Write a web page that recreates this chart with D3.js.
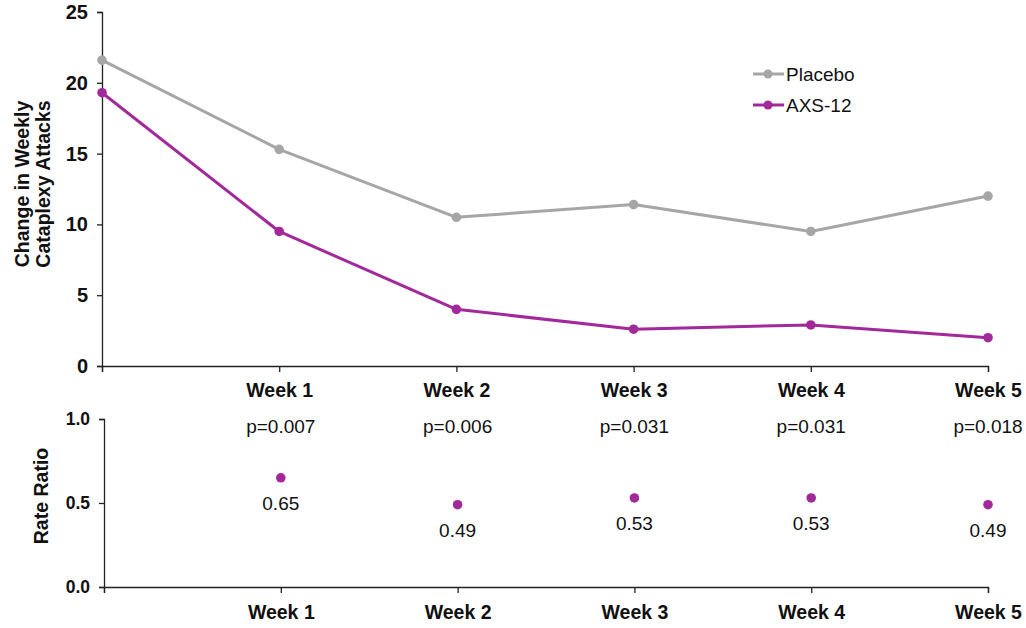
<!DOCTYPE html>
<html>
<head>
<meta charset="utf-8">
<script src="https://cdn.jsdelivr.net/npm/d3@7"></script>
<style>
  html, body { margin: 0; padding: 0; background: #fff; }
  svg { display: block; font-family: "Liberation Sans", Arial, sans-serif; }
</style>
</head>
<body>
<svg id="chart" width="1026" height="628"></svg>
<script>
// ---- Data ----
const timepoints = ["Baseline", "Week 1", "Week 2", "Week 3", "Week 4", "Week 5"];
const placebo = [21.6, 15.3, 10.5, 11.4, 9.5, 12.0];
const axs12 = [19.3, 9.5, 4.0, 2.6, 2.9, 2.0];
const ratioWeeks = ["Week 1", "Week 2", "Week 3", "Week 4", "Week 5"];
const rateRatio = [0.65, 0.49, 0.53, 0.53, 0.49];
const pValues = ["p=0.007", "p=0.006", "p=0.031", "p=0.031", "p=0.018"];
const topTicks = [0, 5, 10, 15, 20, 25];
const bottomTicks = [0, 0.5, 1.0];
const seriesNames = ["Placebo", "AXS-12"];

const GRAY = "#a6a6a6";
const PURPLE = "#a2299a";

const svg = d3.select("#chart");

function styleAxis(g, size) {
  g.selectAll("path, line").attr("stroke", "#222").attr("stroke-width", 1.3);
  g.selectAll("text").attr("font-size", size).attr("font-weight", "bold").attr("fill", "#111")
    .attr("font-family", "Liberation Sans, Arial, sans-serif");
}

// ---- Top panel ----
const xTop = d3.scalePoint().domain(timepoints).range([102, 988]);
const yTop = d3.scaleLinear().domain([0, 25]).range([366, 12]);

const gxTop = svg.append("g").attr("transform", "translate(0,366)")
  .call(d3.axisBottom(xTop).tickSizeOuter(0).tickSize(6).tickPadding(11)
    .tickFormat(d => d === "Baseline" ? "" : d));
const gyTop = svg.append("g").attr("transform", "translate(102,0)")
  .call(d3.axisLeft(yTop).tickValues(topTicks).tickSizeOuter(0).tickSize(5).tickPadding(9));
styleAxis(gxTop, 19.5);
styleAxis(gyTop, 20);

const line = d3.line().x((d, i) => xTop(timepoints[i])).y(d => yTop(d));
[[placebo, GRAY], [axs12, PURPLE]].forEach(([vals, col]) => {
  svg.append("path").datum(vals).attr("d", line).attr("fill", "none")
    .attr("stroke", col).attr("stroke-width", 3).attr("stroke-linejoin", "round");
  svg.append("g").selectAll("circle").data(vals).join("circle")
    .attr("cx", (d, i) => xTop(timepoints[i])).attr("cy", d => yTop(d))
    .attr("r", 4.8).attr("fill", col);
});

// Y title
const yTitle = svg.append("text")
  .attr("transform", "translate(29,184) rotate(-90)")
  .attr("text-anchor", "middle").attr("font-size", 19.5).attr("font-weight", "bold").attr("fill", "#111");
yTitle.append("tspan").attr("x", 0).attr("dy", 0).text("Change in Weekly");
yTitle.append("tspan").attr("x", 0).attr("dy", 21).text("Cataplexy Attacks");

// Legend
const legendColors = [GRAY, PURPLE];
const lg = svg.append("g");
seriesNames.forEach((name, i) => {
  const y = 74 + i * 31;
  lg.append("line").attr("x1", 753).attr("x2", 784).attr("y1", y).attr("y2", y)
    .attr("stroke", legendColors[i]).attr("stroke-width", 3);
  lg.append("circle").attr("cx", 768).attr("cy", y).attr("r", 4.5).attr("fill", legendColors[i]);
  lg.append("text").attr("x", 786).attr("y", y).attr("dy", "0.35em")
    .attr("font-size", 19).attr("fill", "#111").text(name);
});

// ---- Bottom panel ----
const xBot = d3.scalePoint().domain(timepoints).range([104, 988]);
const yBot = d3.scaleLinear().domain([0, 1]).range([587, 419]);

const gxBot = svg.append("g").attr("transform", "translate(0,587)")
  .call(d3.axisBottom(xBot).tickSizeOuter(0).tickSize(6).tickPadding(12)
    .tickFormat(d => d === "Baseline" ? "" : d));
const gyBot = svg.append("g").attr("transform", "translate(104,0)")
  .call(d3.axisLeft(yBot).tickValues(bottomTicks).tickFormat(d3.format(".1f"))
    .tickSizeOuter(0).tickSize(5).tickPadding(9));
styleAxis(gxBot, 19.5);
styleAxis(gyBot, 17.5);

svg.append("text")
  .attr("transform", "translate(48,496) rotate(-90)")
  .attr("text-anchor", "middle").attr("font-size", 19.5).attr("font-weight", "bold").attr("fill", "#111")
  .text("Rate Ratio");

svg.append("g").selectAll("circle").data(rateRatio).join("circle")
  .attr("cx", (d, i) => xBot(ratioWeeks[i])).attr("cy", d => yBot(d))
  .attr("r", 4.8).attr("fill", PURPLE);

svg.append("g").selectAll("text").data(rateRatio).join("text")
  .attr("x", (d, i) => xBot(ratioWeeks[i])).attr("y", d => yBot(d) + 32)
  .attr("text-anchor", "middle").attr("font-size", 19).attr("fill", "#111")
  .text(d => d3.format(".2f")(d));

svg.append("g").selectAll("text").data(pValues).join("text")
  .attr("x", (d, i) => xBot(ratioWeeks[i])).attr("y", 433)
  .attr("text-anchor", "middle").attr("font-size", 19).attr("fill", "#111")
  .text(d => d);
</script>
</body>
</html>
